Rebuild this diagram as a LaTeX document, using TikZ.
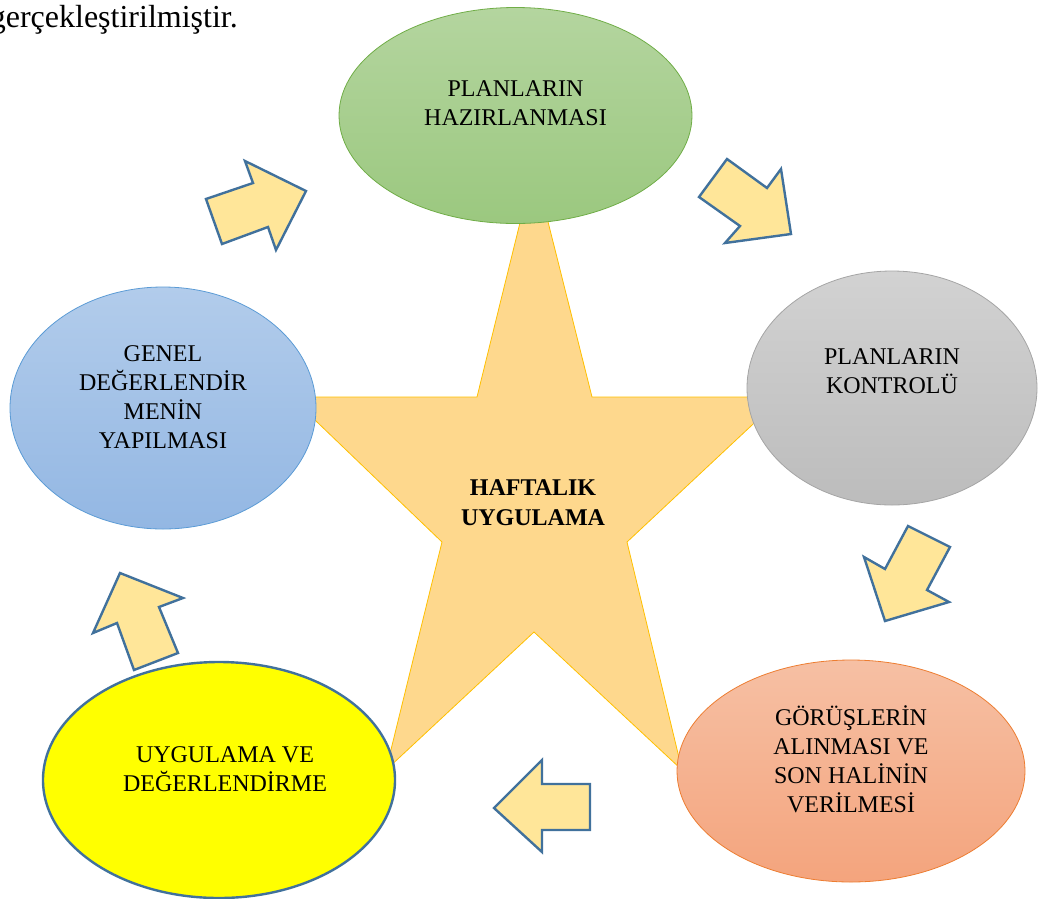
\documentclass[tikz,border=0pt]{standalone}
\usepackage{fontspec}
\setmainfont{Liberation Serif}
\usetikzlibrary{positioning,shapes.geometric}

\definecolor{greenTop}{HTML}{B4D59F}
\definecolor{greenBot}{HTML}{9BC87F}
\definecolor{greenLine}{HTML}{70AD47}
\definecolor{grayTop}{HTML}{D2D2D2}
\definecolor{grayBot}{HTML}{BCBCBC}
\definecolor{grayLine}{HTML}{A5A5A5}
\definecolor{salmonTop}{HTML}{F6C0A4}
\definecolor{salmonBot}{HTML}{F4A47D}
\definecolor{salmonLine}{HTML}{ED7D31}
\definecolor{blueTop}{HTML}{B2CCEB}
\definecolor{blueBot}{HTML}{93B7E3}
\definecolor{blueLine}{HTML}{5B9BD5}
\definecolor{pureYellow}{HTML}{FFFF00}
\definecolor{arrowLine}{HTML}{41719C}
\definecolor{arrowFill}{HTML}{FFE699}
\definecolor{starFill}{HTML}{FED88D}
\definecolor{starLine}{HTML}{FFC000}

\begin{document}
\begin{tikzpicture}[
		x=1pt, y=-1pt,
		phase/.style={ellipse,inner sep=0pt,line width=0.8pt},
		lbl/.style={align=center,inner sep=0pt,font=\fontsize{24}{29}\selectfont},
		blockarrow/.style={draw=arrowLine,fill=arrowFill,line width=2.4pt,line join=miter},
		starshape/.style={draw=starLine,fill=starFill,line width=0.8pt,line join=miter}
		]
		\useasboundingbox (0,0) rectangle (1039,898);
		
		% the star in the middle
		\draw[starshape] (534,166) -- (592,397) -- (782,397) -- (627,542) -- (682,770)
		-- (534,632) -- (386,770) -- (442,542) -- (291,397) -- (477,397) -- cycle;
		\node[lbl,font=\fontsize{24}{30}\selectfont\bfseries] at (533,503) (core) {HAFTALIK\\UYGULAMA};
		
		% the five phases
		\node[phase,draw=greenLine,top color=greenTop,bottom color=greenBot,
		minimum width=353,minimum height=216] at (515.5,115.5) (plan) {};
		\node[phase,draw=grayLine,top color=grayTop,bottom color=grayBot,
		minimum width=290,minimum height=234] at (892,388) (check) {};
		\node[phase,draw=salmonLine,top color=salmonTop,bottom color=salmonBot,
		minimum width=348,minimum height=222] at (851,771) (views) {};
		\node[phase,draw=arrowLine,fill=pureYellow,line width=2.4pt,
		minimum width=352,minimum height=236] at (219,780) (apply) {};
		\node[phase,draw=blueLine,top color=blueTop,bottom color=blueBot,
		minimum width=306,minimum height=242] at (163,408) (review) {};
		
		\node[lbl] at ([yshift=12]plan.center) (planT) {PLANLARIN\\HAZIRLANMASI};
		\node[lbl] at ([yshift=17]check.center) (checkT) {PLANLARIN\\KONTROLÜ};
		\node[lbl] at ([yshift=12]views.center) (viewsT) {GÖRÜŞLERİN\\ALINMASI VE\\SON HALİNİN\\VERİLMESİ};
		\node[lbl] at ([xshift=6,yshift=11]apply.center) (applyT) {UYGULAMA VE\\DEĞERLENDİRME};
		\node[lbl] at ([yshift=11]review.center) (reviewT) {GENEL\\DEĞERLENDİR\\MENİN\\YAPILMASI};
		
		% block arrows between the phases
		\draw[blockarrow] (206,199) -- (253,183) -- (245,161) -- (306,191) -- (276,250) -- (268,227) -- (222,244) -- cycle;
		\draw[blockarrow] (727,159) -- (767,188) -- (781,169) -- (791,234) -- (725,243) -- (740,226) -- (699,197) -- cycle;
		\draw[blockarrow] (908,526) -- (950,547) -- (927,590) -- (949,602) -- (885,621) -- (864,557) -- (885,569) -- cycle;
		\draw[blockarrow] (494,808) -- (542,760) -- (542,784) -- (590,784) -- (590,830) -- (542,830) -- (542,852) -- cycle;
		\draw[blockarrow] (120,573) -- (183,598) -- (159,607) -- (178,653) -- (134,670) -- (117,623) -- (93,633) -- cycle;
		
		% cut text from the page above
		\node[anchor=base east,inner sep=0pt,font=\fontsize{32}{38}\selectfont] at (238,27) (intro) {gerçekleştirilmiştir.};
	\end{tikzpicture}
\end{document}
